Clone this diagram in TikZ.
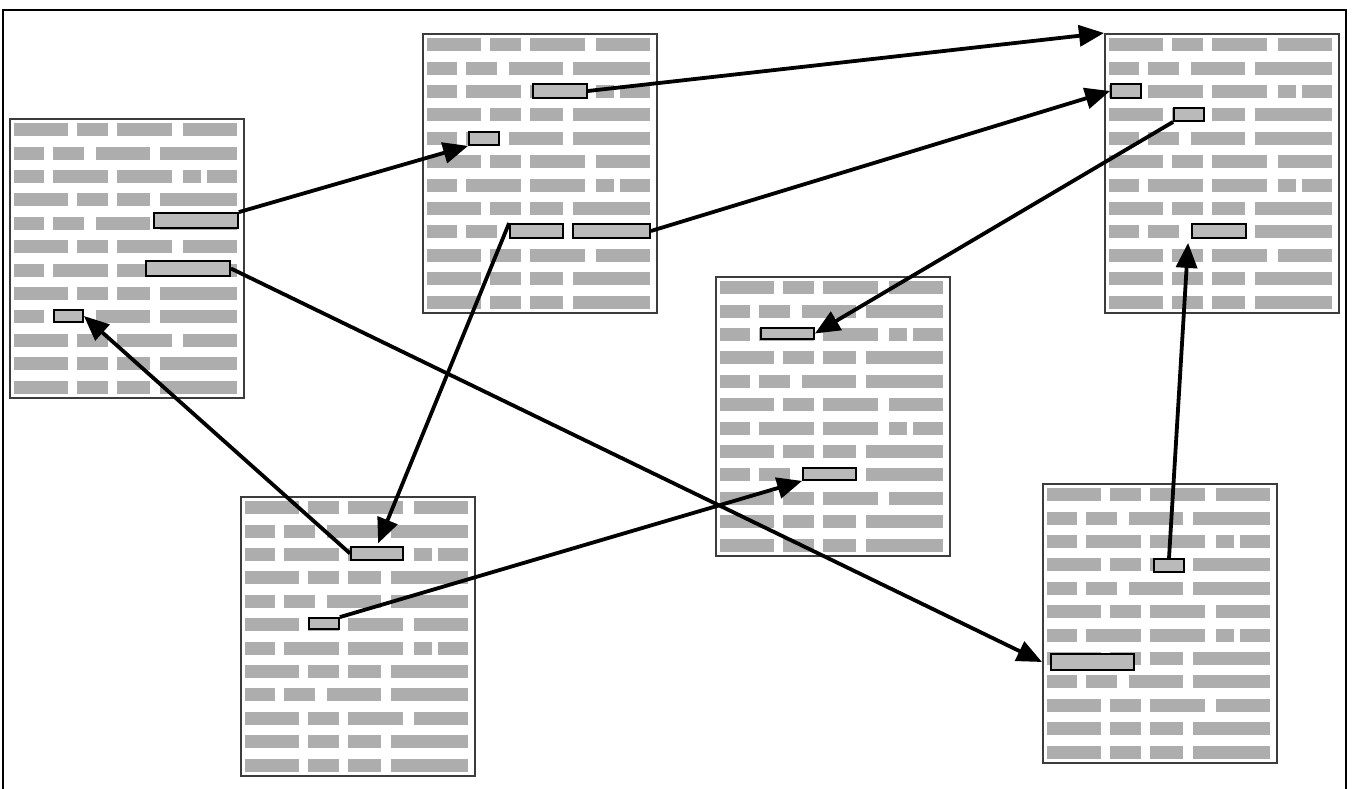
\documentclass[tikz,border=0pt]{standalone}
\usetikzlibrary{arrows.meta,calc}
\definecolor{barg}{HTML}{ADADAD}
\definecolor{hlg}{HTML}{BABABA}
\definecolor{pageline}{HTML}{3C3C3C}
\tikzset{
  docpage/.style={draw=pageline, line width=1.8pt, fill=white, minimum width=234pt, minimum height=279pt, inner sep=0pt, anchor=north west},
  hl/.style={draw=black, line width=1.8pt, fill=hlg, inner sep=0pt},
  arr/.style={line width=3.8pt, -{Triangle[length=25pt,width=21pt]}},
  frame/.style={line width=2.2pt}
}
\def\rA{5/59.3,68.3/99.3,108.3/162.7,174/228.3}
\def\rB{5/35.3,44.3/75.3,87/141,150.7/228.3}
\def\rC{5/35.3,44.3/99.3,108.3/162.7,174/192,198/228.3}
\def\rD{5/59.3,68.3/99.3,108.3/141,150.7/228.3}
\newcommand{\docbars}[2]{%
  \begin{scope}[shift={(#1,#2)}]
    \foreach \t [count=\k from 0] in {A,B,C,D,B,A,C,D,B,A,D,D} {
      \pgfmathsetmacro\cy{11.7+23.4*\k}
      \edef\cur{\csname r\t\endcsname}
      \foreach \a/\b in \cur {
        \fill[barg] (\a,\cy-6.5) rectangle (\b,\cy+6.5);
      }
    }
  \end{scope}}
\begin{document}
\begin{tikzpicture}[x=1pt,y=-1pt]
\useasboundingbox (0,0) rectangle (1353,789);
\draw[frame] (3,795) -- (3,10) -- (1346,10) -- (1346,795);
% pages
\node[docpage] (P1) at (9,118) {};
\node[docpage] (P2) at (422,33) {};
\node[docpage] (P3) at (1104,33) {};
\node[docpage] (P4) at (240,496) {};
\node[docpage] (P5) at (715,276) {};
\node[docpage] (P6) at (1042,483) {};
\docbars{9}{118}
\docbars{422}{33}
\docbars{1104}{33}
\docbars{240}{496}
\docbars{715}{276}
\docbars{1042}{483}
% highlighted words
\node[hl, minimum width=84pt, minimum height=15pt] (H1a) at (196,220.5) {};
\node[hl, minimum width=84pt, minimum height=15pt] (H1b) at (188,268.5) {};
\node[hl, minimum width=29pt, minimum height=12pt] (H1c) at (68.5,316) {};
\node[hl, minimum width=54pt, minimum height=14pt] (H2a) at (560,91) {};
\node[hl, minimum width=30pt, minimum height=13pt] (H2b) at (484,138.5) {};
\node[hl, minimum width=53pt, minimum height=14pt] (H2c) at (536.5,231) {};
\node[hl, minimum width=77pt, minimum height=14pt] (H2d) at (611.5,231) {};
\node[hl, minimum width=30pt, minimum height=14pt] (H3a) at (1126,91) {};
\node[hl, minimum width=30pt, minimum height=13pt] (H3b) at (1189,114.5) {};
\node[hl, minimum width=54pt, minimum height=14pt] (H3c) at (1219,231) {};
\node[hl, minimum width=52pt, minimum height=13pt] (H4a) at (377,553.5) {};
\node[hl, minimum width=30pt, minimum height=11pt] (H4b) at (324,623.5) {};
\node[hl, minimum width=53pt, minimum height=11pt] (H5a) at (787.5,333.5) {};
\node[hl, minimum width=53pt, minimum height=12pt] (H5b) at (829.5,474) {};
\node[hl, minimum width=30pt, minimum height=13pt] (H6a) at (1169,565.5) {};
\node[hl, minimum width=83pt, minimum height=16pt] (H6b) at (1092.5,662) {};
% links
\draw[arr] (H1a.north east) -- (H2b.south west);
\draw[arr] (H1b.east) -- (P6.west |- H6b.west);
\draw[arr] (H4a.west) -- (H1c.east);
\draw[arr, shorten >=3pt] (H2c.north west) -- (H4a.north);
\draw[arr] (H4b.north east) -- (H5b.south west);
\draw[arr] (H2a.east) -- (P3.north west);
\draw[arr] (H2d.east) -- (H3a.west);
\draw[arr] (H3b.south west) -- (H5a.east);
\draw[arr] (H6a.north) -- ($(H3c.south west)+(-3,4)$);
\end{tikzpicture}
\end{document}
